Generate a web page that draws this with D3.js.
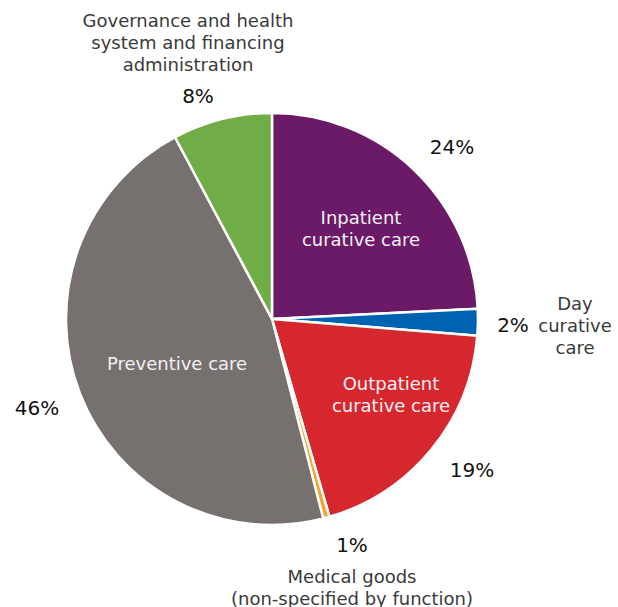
<!DOCTYPE html>
<html lang="en">
<head>
<meta charset="UTF-8">
<title>Health expenditure by function</title>
<script src="https://d3js.org/d3.v7.min.js"></script>
<style>
    body { margin: 0; background: #fff; }
    svg { display: block; font-family: "DejaVu Sans", sans-serif; }
    .pct { font-size: 20px; fill: #111; }
    .lbl { font-size: 18px; fill: #3a3a3a; }
    .inner { font-size: 18px; fill: #f4f0f4; }
</style>
</head>
<body>
<svg class="chart"></svg>
<script>
    // slices, clockwise from 12 o'clock
    const categories = ["Inpatient curative care", "Day curative care", "Outpatient curative care",
        "Medical goods (non-specified by function)", "Preventive care",
        "Governance and health system and financing administration"];
    const shares = [24.2, 2.1, 19.2, 0.5, 46.2, 7.8];
    const pctLabels = ["24%", "2%", "19%", "1%", "46%", "8%"];
    const colors = ["#6b1a67", "#0063b1", "#d7272e", "#f2a531", "#76716f", "#70ad47"];

    const W = 618, H = 607;
    const cx = 272, cy = 319, R = 206;

    const svg = d3.select(".chart").attr("width", W).attr("height", H);
    const g = svg.append("g").attr("transform", `translate(${cx},${cy})`);

    const pie = d3.pie().sort(null).value(d => d);
    const arc = d3.arc().innerRadius(0).outerRadius(R);
    const arcs = pie(shares);

    g.selectAll("path")
        .data(arcs)
        .enter()
        .append("path")
        .attr("d", arc)
        .attr("fill", (d, i) => colors[i])
        .attr("stroke", "#fff")
        .attr("stroke-width", 2.5)
        .attr("stroke-linejoin", "round");

    // label placement (lines of text + where they go)
    const labelPos = [
        { pct: [180, -172], text: ["Inpatient", "curative care"], tx: 89, ty: -102, cls: "inner" },
        { pct: [241, 6], text: ["Day", "curative", "care"], tx: 303, ty: -16, cls: "lbl" },
        { pct: [200, 151], text: ["Outpatient", "curative care"], tx: 119, ty: 64, cls: "inner" },
        { pct: [80, 226], text: ["Medical goods", "(non-specified by function)"], tx: 80, ty: 257, cls: "lbl" },
        { pct: [-235, 89], text: ["Preventive care"], tx: -95, ty: 44, cls: "inner" },
        { pct: [-74, -223], text: ["Governance and health", "system and financing", "administration"], tx: -84, ty: -299, cls: "lbl" }
    ];

    arcs.forEach((d, i) => {
        const p = labelPos[i];
        g.append("text")
            .attr("class", "pct")
            .attr("x", p.pct[0])
            .attr("y", p.pct[1])
            .attr("text-anchor", "middle")
            .attr("dominant-baseline", "central")
            .text(pctLabels[i]);
        const t = g.append("text")
            .attr("class", p.cls)
            .attr("text-anchor", "middle");
        p.text.forEach((line, j) => {
            t.append("tspan")
                .attr("x", p.tx)
                .attr("y", p.ty + j * 22)
                .attr("dominant-baseline", "central")
                .text(line);
        });
    });
</script>
</body>
</html>
